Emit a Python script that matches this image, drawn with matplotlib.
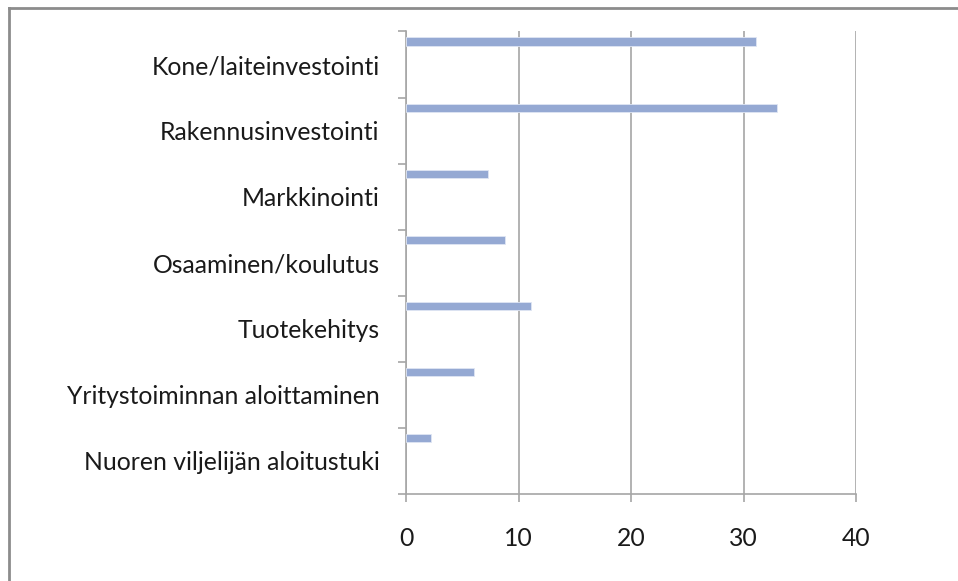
import matplotlib.pyplot as plt
from matplotlib.lines import Line2D

categories = ['Kone/laiteinvestointi', 'Rakennusinvestointi', 'Markkinointi',
              'Osaaminen/koulutus', 'Tuotekehitys', 'Yritystoiminnan aloittaminen',
              'Nuoren viljelijän aloitustuki']
values = [31.1, 33.0, 7.3, 8.8, 11.1, 6.0, 2.2]
xticks = [0, 10, 20, 30, 40]

plt.rcParams['font.family'] = ['Lato', 'DejaVu Sans']

fig = plt.figure(figsize=(9.58, 5.81), dpi=100)
ax = fig.add_axes([406/958, 1 - 494/581, 450/958, (494 - 31.5)/581])

n = len(categories)
pos = list(range(n))
# thin bar near the top of each category band
ax.barh([p + 0.09 for p in pos], values, height=0.125, align='edge',
        color='#95a9d3', edgecolor='#dfe6f3', linewidth=0.6, zorder=3)

ax.set_xlim(0, 40)
ax.set_ylim(n, 0)
ax.set_xticks(xticks)
ax.set_xticklabels([str(t) for t in xticks])
ax.xaxis.grid(True, color='#a6a6a6', linewidth=1.2)
ax.set_axisbelow(True)

ax.set_yticks(range(n + 1))
ax.set_yticklabels([])
ax.set_yticks([p + 0.5 for p in pos], minor=True)
ax.set_yticklabels(categories, minor=True)
ax.tick_params(axis='y', which='major', length=6, width=1.2, color='#a6a6a6')
ax.tick_params(axis='y', which='minor', length=0, pad=19, labelsize=17.8, labelcolor='#1a1a1a')
ax.tick_params(axis='x', length=6, width=1.2, color='#a6a6a6', pad=18,
               labelsize=17.8, labelcolor='#1a1a1a')

for s in ['top', 'right']:
    ax.spines[s].set_visible(False)
for s in ['left', 'bottom']:
    ax.spines[s].set_color('#a6a6a6')
    ax.spines[s].set_linewidth(1.2)

# outer chart frame (left and top edges visible)
fig.add_artist(Line2D([9/958, 9/958], [0, 1 - 8/581], color='#8c8c8c', linewidth=2))
fig.add_artist(Line2D([9/958, 1], [1 - 8/581, 1 - 8/581], color='#8c8c8c', linewidth=2))

fig.savefig('out.png', dpi=100, facecolor='white')
